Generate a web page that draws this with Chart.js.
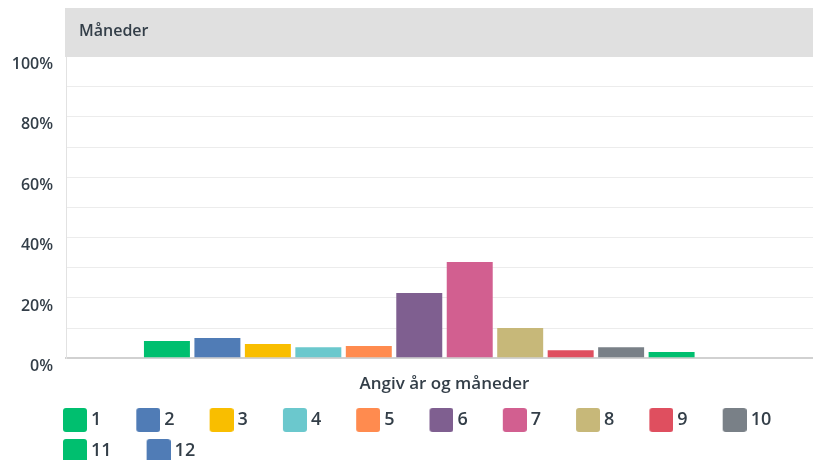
<!DOCTYPE html>
<html>
<head>
<meta charset="utf-8">
<script src="https://cdn.jsdelivr.net/npm/chart.js@4/dist/chart.umd.min.js"></script>
<style>
  html, body { margin: 0; padding: 0; background: #ffffff; overflow: hidden; }
  #wrap { position: relative; width: 823px; height: 470px; }
</style>
</head>
<body>
<div id="wrap"><canvas id="c"></canvas></div>
<script>
// ---- data ----
const categories = ['Måneder'];
const seriesLabels = ['1', '2', '3', '4', '5', '6', '7', '8', '9', '10', '11', '12'];
const seriesValues = [5.7, 6.7, 4.7, 3.7, 4.1, 21.6, 31.9, 10.0, 2.7, 3.7, 2.1, 0];
const seriesColors = ['#00bf6f', '#507cb6', '#f9be00', '#6bc8cd', '#ff8b4f', '#7f5f90',
                      '#d25f90', '#c7b879', '#df4f5f', '#798087', '#00bf6f', '#507cb6'];
const xAxisTitle = 'Angiv år og måneder';
const yTickStep = 10;
const yLabelEvery = 20;

const TEXT = '#333e48';
const FONT = '"Open Sans"';
const LEGEND_SHIFT = 28;

// legend swatch images (rounded square at the right part of a wider transparent image)
function swatch(color) {
  const cv = document.createElement('canvas');
  cv.width = 51; cv.height = 24;
  const g = cv.getContext('2d');
  g.fillStyle = color;
  g.beginPath();
  if (g.roundRect) { g.roundRect(27, 0, 24, 24, 3); } else { g.rect(27, 0, 24, 24); }
  g.fill();
  return cv;
}
const swatches = seriesColors.map(swatch);

const datasets = seriesLabels.map((lab, i) => ({
  label: lab,
  data: [seriesValues[i]],
  backgroundColor: seriesColors[i],
  borderWidth: 0,
  categoryPercentage: 0.8,
  barPercentage: 0.911
}));

const headerPlugin = {
  id: 'header',
  afterLayout(chart) {
    if (chart.legend) {
      chart.legend.left += LEGEND_SHIFT;
      chart.legend.right += LEGEND_SHIFT;
    }
  },
  afterDraw(chart) {
    const {ctx, chartArea} = chart;
    ctx.save();
    ctx.fillStyle = '#e0e0e0';
    ctx.fillRect(chartArea.left - 1, 8, chartArea.right - chartArea.left + 1, chartArea.top + 0.5 - 8);
    ctx.fillStyle = TEXT;
    ctx.font = '600 16px ' + FONT;
    ctx.textBaseline = 'middle';
    ctx.textAlign = 'left';
    ctx.fillText(categories[0], chartArea.left + 13, 31);
    ctx.restore();
  }
};

new Chart(document.getElementById('c'), {
  type: 'bar',
  data: { labels: categories, datasets },
  plugins: [headerPlugin],
  options: {
    responsive: true,
    maintainAspectRatio: false,
    animation: false,
    layout: { padding: { left: 0, top: 56.5, right: 0, bottom: 0 } },
    plugins: {
      tooltip: { enabled: false },
      title: { display: false },
      legend: {
        position: 'bottom',
        align: 'start',
        labels: {
          usePointStyle: true,
          pointStyleWidth: 41,
          padding: 13,
          color: TEXT,
          font: { family: FONT, size: 18, weight: '600' },
          generateLabels(chart) {
            return chart.data.datasets.map((ds, i) => ({
              text: ds.label,
              fillStyle: ds.backgroundColor,
              strokeStyle: ds.backgroundColor,
              lineWidth: 0,
              pointStyle: swatches[i],
              hidden: !chart.isDatasetVisible(i),
              datasetIndex: i,
              fontColor: TEXT
            }));
          }
        }
      }
    },
    scales: {
      x: {
        grid: { display: false, drawTicks: false },
        border: { display: true, color: '#d1d1d1', width: 2 },
        ticks: { display: false },
        title: {
          display: true,
          text: xAxisTitle,
          color: TEXT,
          font: { family: FONT, size: 17, weight: '600', lineHeight: 1.2 },
          padding: { top: 16, bottom: 3.3 }
        }
      },
      y: {
        min: 0,
        max: 100,
        afterFit(scale) { scale.width = 66; },
        grid: {
          drawTicks: false,
          color: (c) => (c.tick && c.tick.value === 0) ? '#d1d1d1' : '#ececec',
          lineWidth: (c) => (c.tick && c.tick.value === 0) ? 2 : 1
        },
        border: { display: true, color: '#e2e2e2', width: 1 },
        ticks: {
          stepSize: yTickStep,
          autoSkip: false,
          padding: 13,
          color: TEXT,
          font: { family: FONT, size: 16, weight: '600', lineHeight: 1.0 },
          callback: (v) => (v % yLabelEvery === 0) ? ['', v + '%'] : ''
        }
      }
    }
  }
});
</script>
</body>
</html>
